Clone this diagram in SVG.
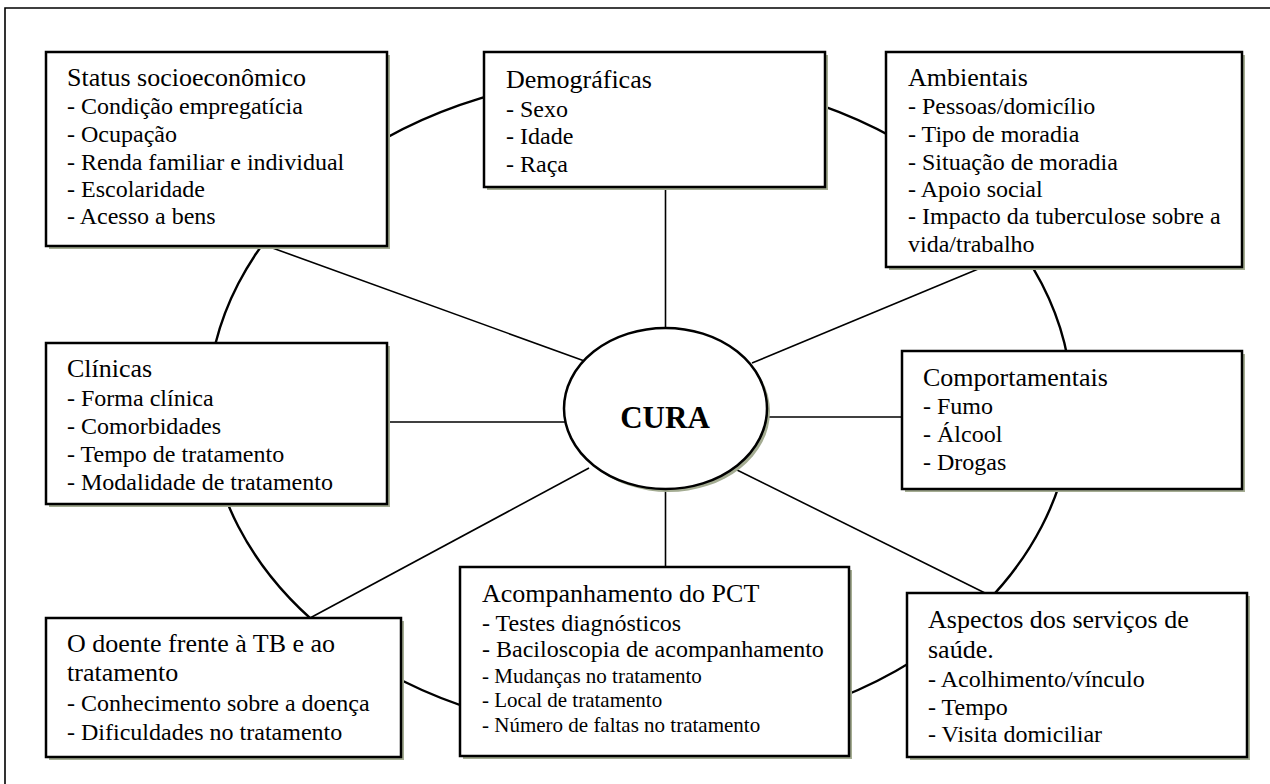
<svg xmlns="http://www.w3.org/2000/svg" width="1270" height="784" viewBox="0 0 1270 784">
<style>
.box{fill:#fff;stroke:#000;stroke-width:2.5}
.sh{fill:#a4ac92}
.t{font-family:"Liberation Serif","Times New Roman",serif;fill:#000;font-size:24px}
.h{font-size:26px}
.s{font-size:21px}
.c{stroke:#000;stroke-width:1.6;fill:none}
</style>
<rect width="1270" height="784" fill="#fff"/>
<path d="M5 784 V8 H1270" fill="none" stroke="#000" stroke-width="1.6"/>
<g id="connectors">
<ellipse cx="640" cy="405" rx="432" ry="330" fill="none" stroke="#000" stroke-width="2.4"/>
<line class="c" x1="267" y1="246" x2="590" y2="363"/>
<line class="c" x1="665.5" y1="187" x2="665.5" y2="330"/>
<line class="c" x1="983" y1="267" x2="752" y2="363"/>
<line class="c" x1="387" y1="422" x2="566" y2="422"/>
<line class="c" x1="766" y1="417" x2="902" y2="417"/>
<line class="c" x1="310" y1="618" x2="589" y2="468"/>
<line class="c" x1="665.5" y1="487" x2="665.5" y2="567"/>
<line class="c" x1="735" y1="469" x2="985" y2="593"/>
</g>
<g id="cura">
<ellipse cx="668.5" cy="411.5" rx="101.5" ry="80.5" class="sh"/>
<ellipse cx="665.5" cy="408.5" rx="101.5" ry="80.5" class="box"/>
<text x="665" y="428" class="t" font-size="31" font-weight="bold" text-anchor="middle" style="font-size:31px">CURA</text>
</g>
<g id="status">
<rect x="49" y="55" width="341" height="194" class="sh"/>
<rect x="46" y="52" width="341" height="194" class="box"/>
<text class="t"><tspan x="67" y="86" class="h">Status socioeconômico</tspan><tspan x="67" y="114">- Condição empregatícia</tspan><tspan x="67" y="142">- Ocupação</tspan><tspan x="67" y="170">- Renda familiar e individual</tspan><tspan x="67" y="197">- Escolaridade</tspan><tspan x="67" y="224">- Acesso a bens</tspan></text>
</g>
<g id="demograficas">
<rect x="487" y="55" width="341" height="135" class="sh"/>
<rect x="484" y="52" width="341" height="135" class="box"/>
<text class="t"><tspan x="506" y="88" class="h">Demográficas</tspan><tspan x="506" y="117">- Sexo</tspan><tspan x="506" y="144">- Idade</tspan><tspan x="506" y="172">- Raça</tspan></text>
</g>
<g id="ambientais">
<rect x="889" y="55" width="356" height="215" class="sh"/>
<rect x="886" y="52" width="356" height="215" class="box"/>
<text class="t"><tspan x="908" y="86" class="h">Ambientais</tspan><tspan x="908" y="114">- Pessoas/domicílio</tspan><tspan x="908" y="142">- Tipo de moradia</tspan><tspan x="908" y="170">- Situação de moradia</tspan><tspan x="908" y="197">- Apoio social</tspan><tspan x="908" y="224">- Impacto da tuberculose sobre a</tspan><tspan x="908" y="252">vida/trabalho</tspan></text>
</g>
<g id="clinicas">
<rect x="49" y="346" width="341" height="161" class="sh"/>
<rect x="46" y="343" width="341" height="161" class="box"/>
<text class="t"><tspan x="67" y="377" class="h">Clínicas</tspan><tspan x="67" y="406">- Forma clínica</tspan><tspan x="67" y="434">- Comorbidades</tspan><tspan x="67" y="462">- Tempo de tratamento</tspan><tspan x="67" y="490">- Modalidade de tratamento</tspan></text>
</g>
<g id="comportamentais">
<rect x="905" y="354" width="340" height="138" class="sh"/>
<rect x="902" y="351" width="340" height="138" class="box"/>
<text class="t"><tspan x="923" y="386" class="h">Comportamentais</tspan><tspan x="923" y="414">- Fumo</tspan><tspan x="923" y="442">- Álcool</tspan><tspan x="923" y="470">- Drogas</tspan></text>
</g>
<g id="doente">
<rect x="49" y="621" width="355" height="139" class="sh"/>
<rect x="46" y="618" width="355" height="139" class="box"/>
<text class="t"><tspan x="67" y="652" class="h">O doente frente à TB e ao</tspan><tspan x="67" y="681" class="h">tratamento</tspan><tspan x="67" y="711">- Conhecimento sobre a doença</tspan><tspan x="67" y="740">- Dificuldades no tratamento</tspan></text>
</g>
<g id="acompanhamento">
<rect x="463" y="570" width="389" height="189" class="sh"/>
<rect x="460" y="567" width="389" height="189" class="box"/>
<text class="t"><tspan x="482" y="602" class="h">Acompanhamento do PCT</tspan><tspan x="482" y="631">- Testes diagnósticos</tspan><tspan x="482" y="657">- Baciloscopia de acompanhamento</tspan><tspan x="482" y="683" class="s">- Mudanças no tratamento</tspan><tspan x="482" y="707" class="s">- Local de tratamento</tspan><tspan x="482" y="732" class="s">- Número de faltas no tratamento</tspan></text>
</g>
<g id="aspectos">
<rect x="910" y="596" width="340" height="164" class="sh"/>
<rect x="907" y="593" width="340" height="164" class="box"/>
<text class="t"><tspan x="928" y="628" class="h">Aspectos dos serviços de</tspan><tspan x="928" y="658" class="h">saúde.</tspan><tspan x="928" y="687">- Acolhimento/vínculo</tspan><tspan x="928" y="715">- Tempo</tspan><tspan x="928" y="742">- Visita domiciliar</tspan></text>
</g>
</svg>
